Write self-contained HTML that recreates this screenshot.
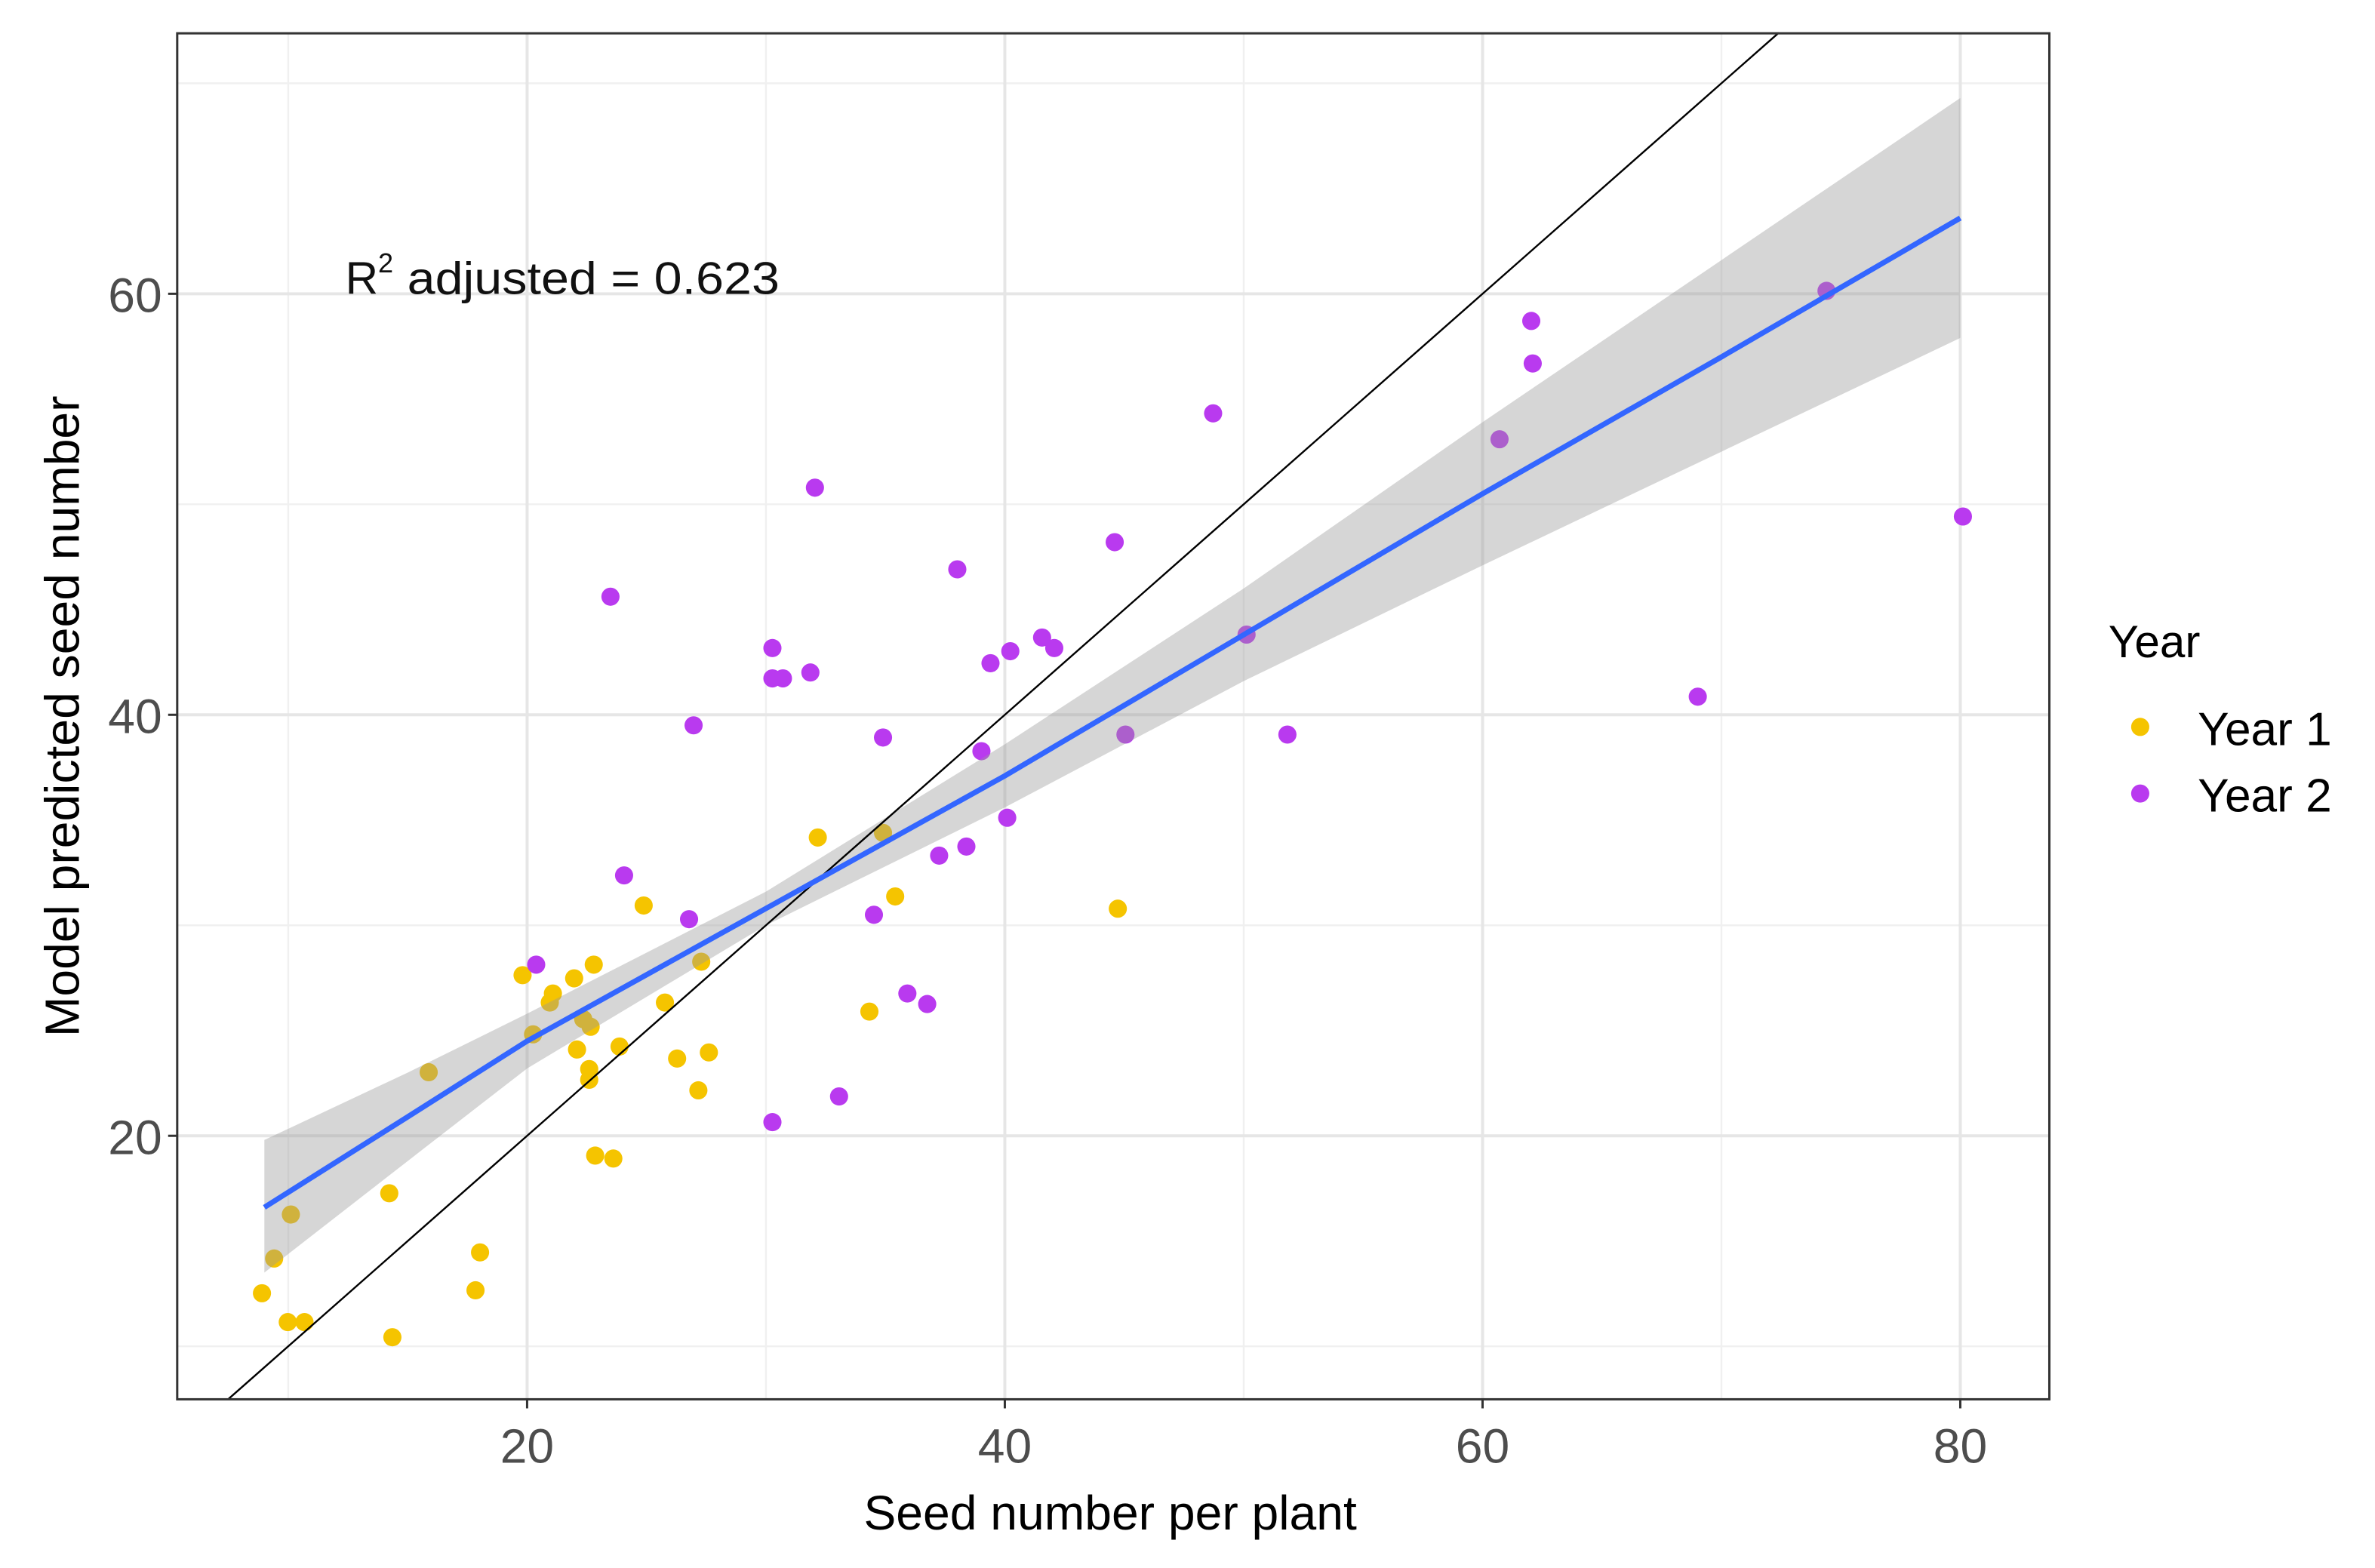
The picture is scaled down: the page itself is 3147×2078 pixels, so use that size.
<!DOCTYPE html>
<html><head><meta charset="utf-8"><style>
html,body{margin:0;padding:0;background:#fff;}
svg{display:block;}
text{font-family:"Liberation Sans",sans-serif;}
</style></head><body>
<svg id="chart" width="3147" height="2078" viewBox="0 0 1568 1035.4" preserveAspectRatio="none" xmlns="http://www.w3.org/2000/svg">
<rect x="0" y="0" width="1568" height="1035.4" fill="#fff"/>
<g id="grid"></g>
<g id="points"></g>
<g id="band"></g>
<g id="lines"></g>
<rect x="117" y="22" width="1236" height="902" fill="none" stroke="#333" stroke-width="1.5"/>
<g id="axes"></g>
<text x="228" y="194" font-size="30" fill="#111">R<tspan dy="-14" font-size="18">2</tspan><tspan dy="14" textLength="255" lengthAdjust="spacingAndGlyphs"> adjusted = 0.623</tspan></text>
<text x="733" y="1010" font-size="32" text-anchor="middle" fill="#000">Seed number per plant</text>
<text transform="translate(52,473) rotate(-90)" font-size="32" text-anchor="middle" fill="#000">Model predicted seed number</text>
<g>
<text x="1392" y="434" font-size="30" fill="#000">Year</text>
<g><circle cx="1413" cy="480" r="6" fill="#F5C400"/><text x="1451" y="492" font-size="31" fill="#000">Year 1</text></g>
<g><circle cx="1413" cy="524" r="6" fill="#B93AEF"/><text x="1451" y="536" font-size="31" fill="#000">Year 2</text></g>
</g>
</svg>
<script>
const xTicks = [20, 40, 60, 80];
const yTicks = [20, 40, 60];
const xMinor = [10, 30, 50, 70];
const yMinor = [10, 30, 50, 70];
const year1X = [8.90,9.41,10.11,9.98,10.68,14.36,14.23,15.88,18.03,17.84,19.81,20.25,20.95,21.08,21.97,22.09,22.35,22.60,22.66,22.60,22.79,22.85,23.61,23.87,24.88,25.77,26.28,27.17,27.29,27.61,32.17,34.33,34.90,35.41,44.73];
const year1Y = [12.52,14.17,16.26,11.15,11.15,10.43,17.27,23.02,14.46,12.66,27.63,24.82,26.33,26.76,27.48,24.10,25.54,23.17,25.18,22.66,28.13,19.06,18.92,24.24,30.94,26.33,23.67,22.16,28.27,23.96,34.17,25.90,34.39,31.37,30.79];
const year2X = [20.38,23.49,24.06,26.78,26.97,30.27,30.27,30.71,30.27,31.86,32.05,33.06,34.52,34.90,35.92,36.75,37.25,38.01,38.39,39.02,39.40,40.10,40.23,41.56,42.07,44.60,45.05,48.72,50.12,51.83,60.71,62.04,62.10,69.01,74.40,80.11];
const year2Y = [28.13,45.61,32.37,30.29,39.50,43.17,41.73,41.73,20.65,42.01,50.79,21.87,30.50,38.92,26.76,26.26,33.31,46.91,33.74,38.27,42.45,35.11,43.02,43.67,43.17,48.20,39.06,54.32,43.81,39.06,53.09,58.71,56.69,40.86,60.14,49.42];
const fitX = [9.0, 15, 20, 30, 40, 50, 60, 70, 80];
const fitY = [16.6, 20.9, 24.5, 30.8, 37.1, 43.8, 50.5, 57.0, 63.6];
const bandLo = [13.5, 18.8, 23.2, 30.0, 35.6, 41.6, 47.1, 52.5, 57.9];
const bandHi = [19.8, 23.0, 25.8, 31.6, 38.6, 46.0, 53.9, 61.6, 69.3];

const NS = "http://www.w3.org/2000/svg";
const X0 = 117, X1 = 1353, Y0 = 22, Y1 = 924;
function sx(v){ return 32.6 + v * 15.77; }
function sy(v){ return 1028 - v * 13.9; }
function mk(tag, attrs, parent){ const e = document.createElementNS(NS, tag); for (const k in attrs) e.setAttribute(k, attrs[k]); parent.appendChild(e); return e; }

const grid = document.getElementById('grid');
xMinor.forEach(v => { const l = mk('line', {x1: sx(v), x2: sx(v), y1: Y0, y2: Y1, stroke: '#f0f0f0', 'stroke-width': 1.2}, grid);

 });
yMinor.forEach(v => { const l = mk('line', {x1: X0, x2: X1, y1: sy(v), y2: sy(v), stroke: '#f0f0f0', 'stroke-width': 1.2}, grid);

 });
xTicks.forEach(v => { const l = mk('line', {x1: sx(v), x2: sx(v), y1: Y0, y2: Y1, stroke: '#e6e6e6', 'stroke-width': 2}, grid);

 });
yTicks.forEach(v => { const l = mk('line', {x1: X0, x2: X1, y1: sy(v), y2: sy(v), stroke: '#e6e6e6', 'stroke-width': 2}, grid);

 });

const pts = document.getElementById('points');
year1X.forEach((v, i) => { const c = mk('circle', {cx: sx(v), cy: sy(year1Y[i]), r: 6, fill: '#F5C400'}, pts);

 });
year2X.forEach((v, i) => { const c = mk('circle', {cx: sx(v), cy: sy(year2Y[i]), r: 6, fill: '#B93AEF'}, pts);

 });

const band = document.getElementById('band');
let d = fitX.map((v, i) => (i ? 'L' : 'M') + sx(v) + ',' + sy(bandHi[i])).join(' ');
for (let i = fitX.length - 1; i >= 0; i--) d += ' L' + sx(fitX[i]) + ',' + sy(bandLo[i]);
const bp = mk('path', {d: d + ' Z', fill: '#999', 'fill-opacity': 0.4}, band);



const lines = document.getElementById('lines');
const idl = mk('line', {x1: sx(7.5), y1: sy(7.5), x2: sx(72.4), y2: sy(72.4), stroke: '#000', 'stroke-width': 1.2}, lines);


const fp = mk('path', {d: fitX.map((v, i) => (i ? 'L' : 'M') + sx(v) + ',' + sy(fitY[i])).join(' '), fill: 'none', stroke: '#3366FF', 'stroke-width': 3.5, 'stroke-linejoin': 'round'}, lines);



const axes = document.getElementById('axes');
xTicks.forEach(v => {
  const t = mk('line', {x1: sx(v), x2: sx(v), y1: Y1, y2: Y1 + 6, stroke: '#333', 'stroke-width': 1.5}, axes);
  
  
  const l = mk('text', {x: sx(v), y: Y1 + 42, 'font-size': 32, 'text-anchor': 'middle', fill: '#4d4d4d'}, axes);
  l.textContent = v;
  
  
});
yTicks.forEach(v => {
  const t = mk('line', {x1: X0 - 6, x2: X0, y1: sy(v), y2: sy(v), stroke: '#333', 'stroke-width': 1.5}, axes);
  
  
  const l = mk('text', {x: X0 - 10, y: sy(v) + 12, 'font-size': 32, 'text-anchor': 'end', fill: '#4d4d4d'}, axes);
  l.textContent = v;
  
  
});
</script>
</body></html>
